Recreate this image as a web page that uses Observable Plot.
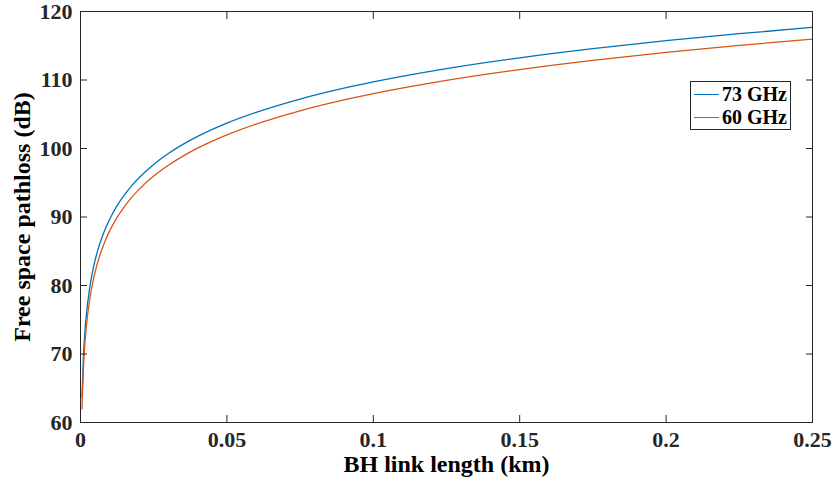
<!DOCTYPE html>
<html>
<head>
<meta charset="utf-8">
<script src="https://cdn.jsdelivr.net/npm/d3@7"></script>
<script src="https://cdn.jsdelivr.net/npm/@observablehq/plot@0.6"></script>
<style>
  html, body { margin: 0; padding: 0; background: #fff; }
  #wrap { position: relative; width: 834px; height: 489px; }
  #legend {
    position: absolute; left: 690px; top: 81px; width: 99px; height: 47px;
    border: 1px solid #262626; background: #fff;
    font-family: "Liberation Serif", serif; font-weight: bold; font-size: 20px; color: #000;
  }
  .row { position: absolute; left: 0; height: 22px; display: flex; align-items: center; }
  .sw { display: inline-block; width: 25px; height: 0; border-top: 1.3px solid; margin-left: 3px; margin-right: 3px; }
</style>
</head>
<body>
<div id="wrap"></div>
<script>
// BH link length (km)
const distanceKm = [0.0005, 0.001, 0.0015, 0.002, 0.003, 0.004, 0.005, 0.0065, 0.008, 0.01, 0.0125, 0.015, 0.0175, 0.02, 0.025, 0.03, 0.035, 0.04, 0.05, 0.06, 0.075, 0.09, 0.1, 0.125, 0.15, 0.175, 0.2, 0.225, 0.25];
// Free space pathloss (dB)
const loss73 = [63.70, 69.72, 73.24, 75.74, 79.26, 81.76, 83.70, 85.98, 87.78, 89.72, 91.66, 93.24, 94.58, 95.74, 97.68, 99.26, 100.60, 101.76, 103.70, 105.28, 107.22, 108.80, 109.72, 111.66, 113.24, 114.58, 115.74, 116.76, 117.68];
const loss60 = [61.99, 68.01, 71.53, 74.03, 77.55, 80.05, 81.99, 84.27, 86.07, 88.01, 89.95, 91.53, 92.87, 94.03, 95.97, 97.55, 98.89, 100.05, 101.99, 103.57, 105.51, 107.09, 108.01, 109.95, 111.53, 112.87, 114.03, 115.05, 115.97];
const seriesNames = ["73 GHz", "60 GHz"];
const seriesColors = ["#0072BD", "#D95319"];
const xTicks = [0, 0.05, 0.1, 0.15, 0.2, 0.25];
const xTickLabels = ["0", "0.05", "0.1", "0.15", "0.2", "0.25"];
const yTicks = [60, 70, 80, 90, 100, 110, 120];
const xLabel = "BH link length (km)";
const yLabel = "Free space pathloss (dB)";

const rows = [];
distanceKm.forEach((d, i) => {
  rows.push({d, v: loss73[i], s: seriesNames[0]});
  rows.push({d, v: loss60[i], s: seriesNames[1]});
});

const font = {fontFamily: "Liberation Serif", fontWeight: "bold", fill: "#262626"};
const axisColor = "#262626";

const chart = Plot.plot({
  width: 834,
  height: 489,
  marginLeft: 80,
  marginRight: 22,
  marginTop: 11,
  marginBottom: 67,
  x: {domain: [0, 0.25]},
  y: {domain: [60, 120]},
  color: {domain: seriesNames, range: seriesColors},
  marks: [
    Plot.line(rows, {x: "d", y: "v", z: "s", stroke: "s", strokeWidth: 1.3, curve: "monotone-x"}),
    // inward ticks
    Plot.axisX(xTicks, {anchor: "bottom", tickSize: 7, dy: -7, text: null, stroke: axisColor, label: null}),
    Plot.axisX(xTicks, {anchor: "top", tickSize: 7, dy: 7, text: null, stroke: axisColor, label: null}),
    Plot.axisY(yTicks, {anchor: "left", tickSize: 7, dx: 7, text: null, stroke: axisColor, label: null}),
    Plot.axisY(yTicks, {anchor: "right", tickSize: 7, dx: -7, text: null, stroke: axisColor, label: null}),
    // tick labels
    Plot.axisX(xTicks, {anchor: "bottom", tickSize: 0, tickPadding: 9, tickFormat: (d) => xTickLabels[xTicks.indexOf(d)], fontSize: 22, ...font, label: null}),
    Plot.axisY(yTicks, {anchor: "left", tickSize: 0, tickPadding: 8, fontSize: 22, ...font, label: null}),
    Plot.frame({stroke: axisColor, strokeWidth: 1}),
    Plot.text([xLabel], {text: d => d, frameAnchor: "bottom", textAnchor: "middle", dy: 49, fontSize: 24, ...font, fill: "#000"}),
    Plot.text([yLabel], {text: d => d, frameAnchor: "left", textAnchor: "middle", dx: -58, rotate: -90, fontSize: 24, ...font, fill: "#000"})
  ]
});
document.getElementById("wrap").appendChild(chart);

const legend = document.createElement("div");
legend.id = "legend";
seriesNames.forEach((name, i) => {
  const row = document.createElement("div");
  row.className = "row";
  row.style.top = (1 + i * 23) + "px";
  const sw = document.createElement("span");
  sw.className = "sw";
  sw.style.borderColor = seriesColors[i];
  const t = document.createElement("span");
  t.textContent = name;
  row.appendChild(sw);
  row.appendChild(t);
  legend.appendChild(row);
});
document.getElementById("wrap").appendChild(legend);
</script>
</body>
</html>
